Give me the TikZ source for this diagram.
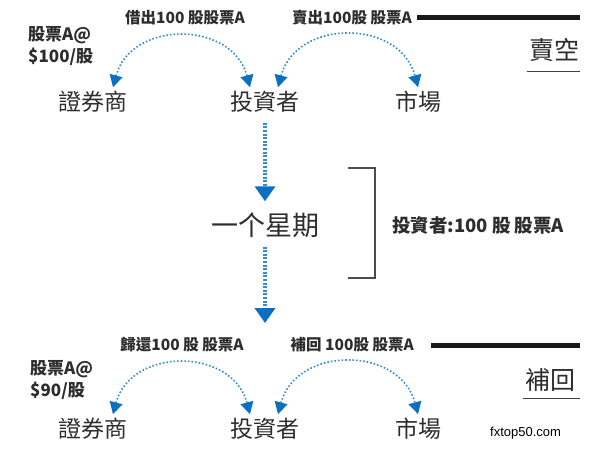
\documentclass[tikz,border=0pt]{standalone}
\usepackage{fontspec}
\setmainfont{Noto Sans CJK TC}
\newfontfamily\latinfont{Liberation Sans}
\usetikzlibrary{arrows.meta,positioning,calc}
\definecolor{flowblue}{RGB}{52,140,210}
\definecolor{tipblue}{RGB}{12,112,192}
\definecolor{inkgray}{RGB}{45,45,45}

\begin{document}
\begin{tikzpicture}[x=1pt,y=-1pt,
  party/.style={font=\fontsize{23}{23}\selectfont, text=inkgray, inner sep=0pt},
  deal/.style={font=\bfseries\fontsize{15.5}{15.5}\selectfont, text=inkgray, inner sep=0pt},
  price/.style={font=\bfseries\fontsize{17}{22}\selectfont, text=inkgray, inner sep=0pt, align=left},
  casebox/.style={font=\fontsize{25}{25}\selectfont, text=inkgray, inner sep=0pt},
  lendflow/.style={draw=flowblue, line width=1.6pt, dash pattern=on 1.6pt off 2pt,
    {Triangle[width=13pt,length=12pt,color=tipblue]}-{Triangle[width=13pt,length=12pt,color=tipblue]}},
  stepdown/.style={draw=flowblue, line width=4pt, dash pattern=on 2pt off 1.6pt,
    -{Triangle[width=20pt,length=15pt,color=tipblue]}},
  bar/.style={line width=5pt, draw=black!90},
  underrule/.style={line width=1.2pt, draw=black!75},
]
\useasboundingbox (0,0) rectangle (605,465);

% short sale
\node[party] (broker1) at (93,102) {證券商};
\node[party] (inv1) at (265,102) {投資者};
\node[party] (mkt1) at (418,102) {市場};

\node[deal] (borrow1) at (185,18) {借出100 股股票A};
\node[deal, anchor=east] (sell1) at (412,18) {賣出100股 股票A};
\coordinate (barend1) at (580,18);
\draw[bar] ([xshift=5]sell1.east) -- (barend1);

\node[casebox, anchor=east] (short) at (580,50) {賣空};
\draw[underrule] ([xshift=-3,yshift=-10]short.south west) -- ([yshift=-10]short.south east);

\node[price, anchor=west] (price1) at (28,46) {股票A@\\\$100/股};

\draw[lendflow] ($(broker1.north)+(20,-4)$) to[out=75,in=105,looseness=1.3] ($(inv1.north)+(-15,-4)$);
\draw[lendflow] ($(inv1.north)+(13,-4)$) to[out=75,in=105,looseness=1.3] ($(mkt1.north)+(0,-4)$);

% one week
\node[font=\fontsize{27}{27}\selectfont, text=inkgray, inner sep=0pt] (week) at (265,225) {一个星期};
\coordinate (weekend) at (265,323);
\draw[stepdown, shorten <=10pt, shorten >=11pt] (inv1.south) -- (week.north);
\draw[stepdown, shorten <=9pt] (week.south) -- (weekend);

\draw[line width=1.5pt, draw=black!70] (348,168) -| (375,278) -- (348,278);
\node[deal, font=\bfseries\fontsize{18.5}{18.5}\selectfont, anchor=west] (hold) at (392,225) {投資者:100 股 股票A};

% cover
\node[party] (broker2) at (93,429) {證券商};
\node[party] (inv2) at (265,429) {投資者};
\node[party] (mkt2) at (418,429) {市場};

\node[deal] (return2) at (182,345) {歸還100 股 股票A};
\node[deal, anchor=east] (buy2) at (414,345) {補回 100股 股票A};
\coordinate (barend2) at (580,345);
\draw[bar] ([xshift=17]buy2.east) -- (barend2);

\node[casebox, anchor=east] (cover) at (576,380) {補回};
\draw[underrule] ([xshift=-3,yshift=-7]cover.south west) -- ([xshift=4,yshift=-7]cover.south east);

\node[price, anchor=west] (price2) at (30,380) {股票A@\\\$90/股};

\draw[lendflow] ($(broker2.north)+(20,-4)$) to[out=75,in=105,looseness=1.3] ($(inv2.north)+(-15,-4)$);
\draw[lendflow] ($(inv2.north)+(13,-4)$) to[out=75,in=105,looseness=1.3] ($(mkt2.north)+(0,-4)$);

\node[font=\latinfont\fontsize{13}{13}\selectfont, inner sep=0pt, anchor=west] (site) at (490,433) {fxtop50.com};
\end{tikzpicture}
\end{document}
